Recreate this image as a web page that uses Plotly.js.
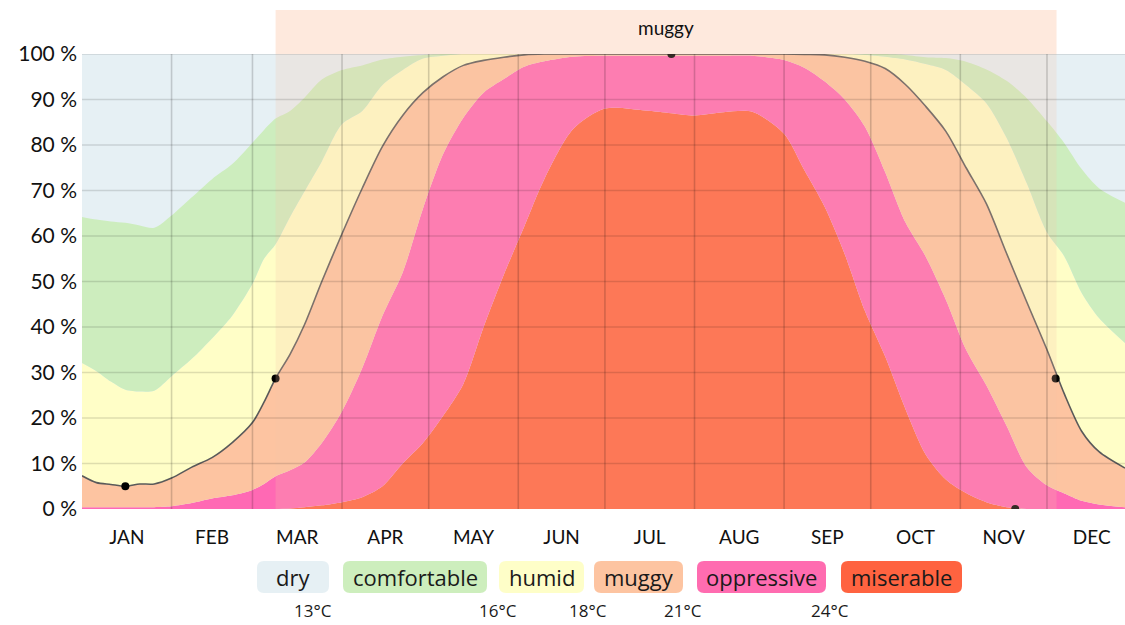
<!DOCTYPE html>
<html>
<head>
<meta charset="utf-8">
<script src="https://cdn.plot.ly/plotly-3.0.1.min.js"></script>
<style>html,body{margin:0;padding:0;background:#fff;}#chart{width:1125px;height:625px;}</style>
</head>
<body>
<div id="chart"></div>
<script>
// Day of year (0 = Jan 1)
const days = [0,5,10,15,20,25,31,38,45,52,59,63,67,72,77,83,90,97,104,111,118,125,132,139,146,153,160,170,181,195,204,212,222,232,243,250,257,264,271,278,285,292,299,306,313,320,327,334,340,346,352,361];

// Cumulative tops (% of time) of each comfort band, from the bottom up
const miserableTop   = [0,0,0,0,0,0,0,0,0,0,0,0,0,0.1,0.4,0.8,1.5,2.6,5,10,14.5,20.5,27.5,40,51.5,62,72.5,83.5,88,87.6,87,86.5,87.2,87.3,82.5,74.5,66.5,56,43.5,33.5,22,12,6.5,3.5,1.5,0.4,0,0,0,0,0,0];
const oppressiveTop  = [0.4,0.4,0.4,0.4,0.4,0.4,0.6,1.3,2.3,3,4.2,5.5,7.2,8.5,10.2,14.5,21.5,31,42.5,52,66,78,86,91.5,94.5,97.2,98.4,99.4,99.6,99.6,99.6,99.6,99.6,99.6,98.7,97,94,90,84,74,63,55.5,46,35,27.2,18.3,9.2,5.2,3.4,1.8,1,0.4];
const muggyTop       = [7.3,5.8,5.4,5.0,5.5,5.5,6.8,9.2,11.3,14.6,19,23.5,28.7,34,40.5,50,60.5,70.5,79.7,86.5,91.5,95,97.5,98.6,99.3,99.8,100,100,100,100,100,100,100,100,100,99.9,99.8,99.3,98.4,96.8,93.3,88.5,83,75,67.1,56.2,45.5,35,25.3,17.1,12.6,9];
const humidTop       = [32.1,30.3,28,26.2,25.8,26,29.2,33,37.5,42.5,49.5,55,58.2,64.2,69.8,76.4,84.6,87.5,93.2,96.5,99,99.6,100,100,100,100,100,100,100,100,100,100,100,100,100,100,100,100,99.8,99.4,98.8,97.8,96.5,93.2,89.2,81.6,71.6,60.8,55.5,47.5,42,36.5];
const comfortableTop = [64.2,63.6,63.2,62.9,62.3,61.8,64.5,68.5,72.5,75.8,80.5,83.3,85.8,87.5,90.4,94.4,96.5,97.5,98.8,99.4,99.8,100,100,100,100,100,100,100,100,100,100,100,100,100,100,100,100,100,100,100,99.8,99.3,99.1,98.3,96.6,94.1,90.3,85.2,80.4,74.7,70.5,67.3];

// Marked points on the muggy-or-worse line
const markerDays   = [15, 67, 204, 337, 323];
const markerValues = [5.0, 28.7, 100, 28.7, 0];

// Muggy season band
const bandStart = 67, bandEnd = 337.3, bandLabel = 'muggy';

// Axis labels
const monthMid   = [15.5,45,74.5,105,135.5,166,196.5,227.5,258,288.5,319,349.5];
const monthNames = ['JAN','FEB','MAR','APR','MAY','JUN','JUL','AUG','SEP','OCT','NOV','DEC'];
const monthEdges = [31,59,90,120,151,181,212,243,273,304,334];
const yTicks     = [0,10,20,30,40,50,60,70,80,90,100];
const yTickText  = yTicks.map(v => v + ' %');

// Legend
const legendNames  = ['dry','comfortable','humid','muggy','oppressive','miserable'];
const legendColors = ['#e6f0f4','#cdeebd','#fefec8','#fdc4a1','#ff6cb0','#ff6340'];
const tempLabels   = ['13°C','16°C','18°C','21°C','24°C'];

const C = {
  dry:'#e6f0f4', comfortable:'#cdedbe', humid:'#fffec7',
  muggy:'#fdc4a1', oppressive:'#ff69b4', miserable:'#ff6340'
};
const SM = 0.8;

function area(y, color, fill){
  return {x: days, y: y, type:'scatter', mode:'lines', fill: fill,
          line:{width:0, shape:'spline', smoothing:SM, color:color},
          fillcolor: color, hoverinfo:'skip', showlegend:false};
}

const traces = [
  area(miserableTop, C.miserable, 'tozeroy'),
  area(oppressiveTop, C.oppressive, 'tonexty'),
  area(muggyTop, C.muggy, 'tonexty'),
  area(humidTop, C.humid, 'tonexty'),
  area(comfortableTop, C.comfortable, 'tonexty'),
  {x: days, y: muggyTop, type:'scatter', mode:'lines',
   line:{color:'#5a5a5a', width:1.6, shape:'spline', smoothing:SM}, hoverinfo:'skip', showlegend:false},
  {x: markerDays, y: markerValues, type:'scatter', mode:'markers',
   marker:{color:'#000', size:8}, hoverinfo:'skip', showlegend:false}
];

// pixel helpers for legend placement
const L = 82, W = 1043, B = 509, H = 455;
const px = v => (v - L) / W;
const py = v => (B - v) / H;
function roundRect(x0, y0, x1, y1, r, color){
  const rx = r / W, ry = r / H;
  const X0 = px(x0), X1 = px(x1), Y0 = py(y1), Y1 = py(y0);
  const d = `M ${X0+rx},${Y0} L ${X1-rx},${Y0} Q ${X1},${Y0} ${X1},${Y0+ry} L ${X1},${Y1-ry} Q ${X1},${Y1} ${X1-rx},${Y1} L ${X0+rx},${Y1} Q ${X0},${Y1} ${X0},${Y1-ry} L ${X0},${Y0+ry} Q ${X0},${Y0} ${X0+rx},${Y0} Z`;
  return {type:'path', xref:'paper', yref:'paper', path:d, fillcolor:color, line:{width:0}, layer:'above'};
}

const shapes = [];
// band above plot
shapes.push({type:'rect', xref:'x', yref:'paper', x0:bandStart, x1:bandEnd, y0:1, y1:py(10),
             fillcolor:'#fee9dd', line:{width:0}, layer:'above'});
// band tint inside plot
shapes.push({type:'rect', xref:'x', yref:'paper', x0:bandStart, x1:bandEnd, y0:0, y1:1,
             fillcolor:'rgba(245,195,170,0.22)', line:{width:0}, layer:'above'});
// grid lines
monthEdges.forEach(d => shapes.push({type:'line', xref:'x', yref:'paper', x0:d, x1:d, y0:0, y1:1,
  line:{color:'rgba(0,0,0,0.17)', width:1.6}, layer:'above'}));
yTicks.slice(1).forEach(v => shapes.push({type:'line', xref:'paper', yref:'y', x0:0, x1:1, y0:v, y1:v,
  line:{color:'rgba(0,0,0,0.13)', width:1.4}, layer:'above'}));

// legend chips
const chipX = [[257,329],[343,487],[499,584],[594,683],[697,826],[841,962]];
const annotations = [];
chipX.forEach((c, i) => {
  shapes.push(roundRect(c[0], 561, c[1], 593, 7, legendColors[i]));
  annotations.push({xref:'paper', yref:'paper', x:px((c[0]+c[1])/2), y:py(577), text:legendNames[i],
    showarrow:false, xanchor:'center', yanchor:'middle',
    font:{family:'Open Sans, Noto Sans, sans-serif', size:22, color:'#1a1a1a'}});
});
const tempX = [313, 498, 588, 683, 830];
tempLabels.forEach((t, i) => annotations.push({xref:'paper', yref:'paper', x:px(tempX[i]), y:py(610), text:t,
  showarrow:false, xanchor:'center', yanchor:'middle',
  font:{family:'Open Sans, Noto Sans, sans-serif', size:17, color:'#1a1a1a'}}));
annotations.push({xref:'x', yref:'paper', x:(bandStart+bandEnd)/2, y:py(28), text:bandLabel,
  showarrow:false, xanchor:'center', yanchor:'middle',
  font:{family:'Lato, sans-serif', size:19, color:'#111'}});

const layout = {
  width:1125, height:625,
  margin:{l:L, r:0, t:54, b:116},
  paper_bgcolor:'#ffffff', plot_bgcolor:C.dry,
  showlegend:false,
  xaxis:{range:[0,361], tickvals:monthMid, ticktext:monthNames, showgrid:false, zeroline:false,
         ticks:'', showline:false, fixedrange:true, ticklabelstandoff:15,
         tickfont:{family:'Lato, sans-serif', size:19, color:'#111'}},
  yaxis:{range:[0,100], tickvals:yTicks, ticktext:yTickText, showgrid:false, zeroline:false,
         ticks:'', showline:false, fixedrange:true, ticklabelstandoff:4,
         tickfont:{family:'Lato, sans-serif', size:21, color:'#111'}},
  shapes: shapes,
  annotations: annotations
};

Plotly.newPlot('chart', traces, layout, {displayModeBar:false, staticPlot:true});
</script>
</body>
</html>
